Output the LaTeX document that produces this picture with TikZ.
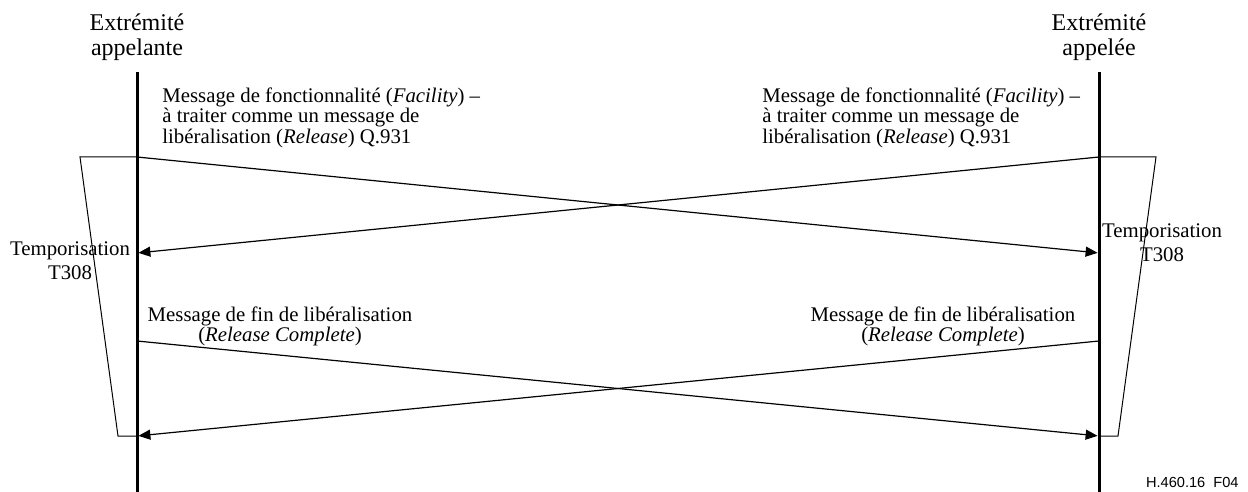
\documentclass[tikz,border=0pt]{standalone}
\usepackage{fontspec}
\setmainfont{Liberation Serif}
\setsansfont{Liberation Sans}
\usetikzlibrary{arrows.meta}

\begin{document}
\begin{tikzpicture}[x=0.5pt, y=-0.5pt,
    lifeline/.style={line width=1.5pt},
    msg/.style={line width=0.6pt, shorten >=0.7pt, -{Triangle[length=6pt, width=5pt]}},
    timer/.style={line width=0.5pt},
    endlbl/.style={inner sep=0pt, align=center, font=\fontsize{12}{12.5}\selectfont},
    lbl/.style={inner sep=0pt, font=\fontsize{10.4}{10.4}\selectfont},
    tmrlbl/.style={inner sep=0pt, align=center, font=\fontsize{10.4}{11.8}\selectfont}]
    \useasboundingbox (0,0) rectangle (1248,492);

    % Configuration
    \def\xa{137}   % calling endpoint
    \def\xb{1099}  % called endpoint

    % Endpoint labels
    \node[endlbl, anchor=north] (caller) at (\xa,13) {Extrémité\\appelante};
    \node[endlbl, anchor=north] (callee) at (\xb,13) {Extrémité\\appelée};

    % Lifelines
    \coordinate (atop) at (\xa,72);
    \coordinate (abot) at (\xa,492);
    \coordinate (btop) at (\xb,72);
    \coordinate (bbot) at (\xb,492);
    \draw[lifeline] (atop) -- (abot);
    \draw[lifeline] (btop) -- (bbot);

    % Message points on the lifelines
    \foreach \y/\n in {157/1, 253/2, 341/3, 436/4} {
        \coordinate (a\n) at (\xa,\y);
        \coordinate (b\n) at (\xb,\y);
    }

    % Facility messages (crossing)
    \draw[msg] (a1) -- (b2);
    \draw[msg] (b1) -- (a2);

    % Release Complete messages (crossing)
    \draw[msg] (a3) -- (b4);
    \draw[msg] (b3) -- (a4);

    % Timers T308
    \coordinate (ta1) at (80,157);
    \coordinate (ta2) at (118,436);
    \coordinate (tb1) at (1156,157);
    \coordinate (tb2) at (1118,436);
    \draw[timer] (a1) -- (ta1) -- (ta2) -- (a4);
    \draw[timer] (b1) -- (tb1) -- (tb2) -- (b4);

    % Message labels
    \node[lbl, anchor=north west, align=left] (faca) at (162,87)
        {Message de fonctionnalité (\textit{Facility}) –\\à traiter comme un message de\\libéralisation (\textit{Release}) Q.931};
    \node[lbl, anchor=north west, align=left] (facb) at (762,87)
        {Message de fonctionnalité (\textit{Facility}) –\\à traiter comme un message de\\libéralisation (\textit{Release}) Q.931};
    \node[lbl, anchor=north, align=center] (rela) at (280,306)
        {Message de fin de libéralisation\\(\textit{Release Complete})};
    \node[lbl, anchor=north, align=center] (relb) at (943,306)
        {Message de fin de libéralisation\\(\textit{Release Complete})};

    % Timer labels
    \node[tmrlbl] (tmra) at (70,261) {Temporisation\\T308};
    \node[tmrlbl] (tmrb) at (1162,243) {Temporisation\\T308};

    % Figure reference
    \node[inner sep=0pt, anchor=base east, font=\sffamily\fontsize{7.3}{8}\selectfont] (fig) at (1239,487) {H.460.16\ \ F04};
\end{tikzpicture}
\end{document}
